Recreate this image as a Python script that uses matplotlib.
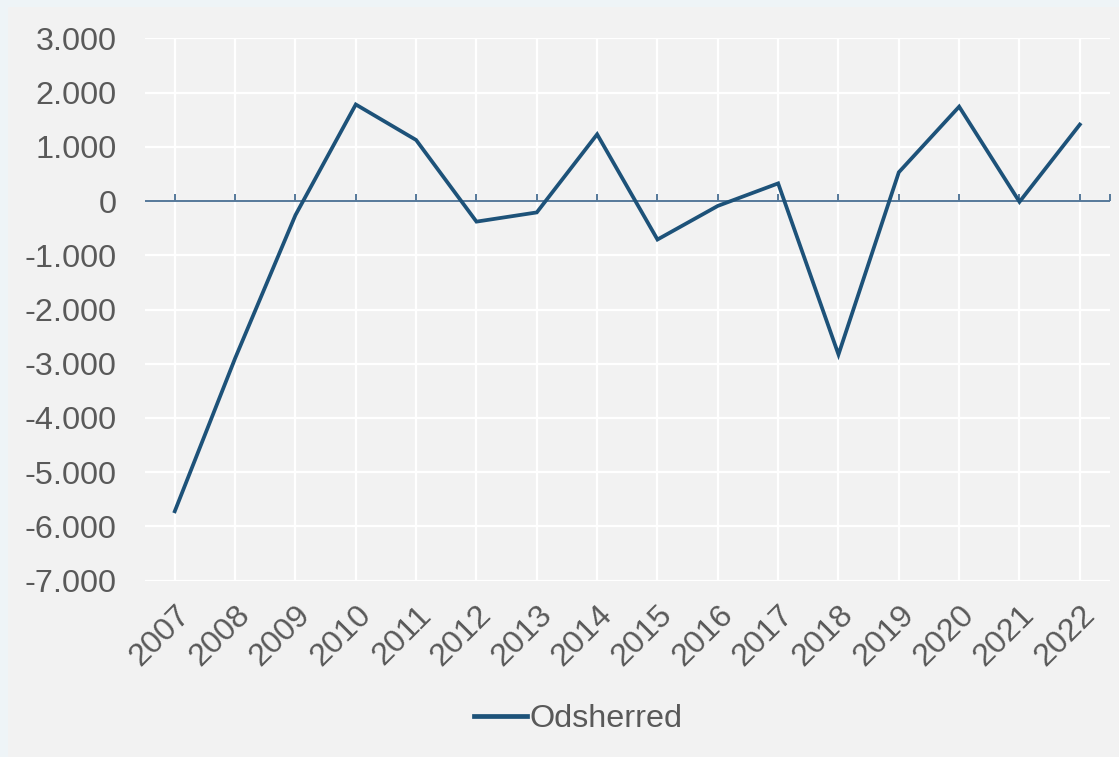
import numpy as np
import matplotlib
matplotlib.use("Agg")
import matplotlib.pyplot as plt
from matplotlib.patches import Rectangle
from matplotlib.ticker import FuncFormatter

# --- data ---
years = ["2007", "2008", "2009", "2010", "2011", "2012", "2013", "2014",
         "2015", "2016", "2017", "2018", "2019", "2020", "2021", "2022"]
odsherred = [-5720, -2900, -260, 1780, 1125, -380, -210, 1230,
             -710, -90, 325, -2830, 530, 1740, -15, 1410]
series_name = "Odsherred"

LINE = "#1d5279"
TXT = "#595959"
BG = "#f2f2f2"
FS = 23.3

plt.rcParams["font.family"] = ["Liberation Sans", "DejaVu Sans"]

fig = plt.figure(figsize=(11.19, 7.57), dpi=100)
fig.patch.set_facecolor("#eef4f7")
# chart area (light grey panel with a thin bluish strip left/top)
fig.patches.append(Rectangle((8/1119, 0), 1 - 8/1119, 1 - 7/757,
                             transform=fig.transFigure, facecolor=BG,
                             edgecolor="none", zorder=-1))

ax = fig.add_axes([144.6/1119, 1 - 580.7/757, (1110 - 144.6)/1119,
                   (580.7 - 38.3)/757])
ax.set_facecolor(BG)

x = np.arange(len(years))
ax.plot(x, odsherred, color=LINE, lw=2.7, solid_joinstyle="miter",
        label=series_name, zorder=3)

# zero line with small category tick marks
ax.axhline(0, color="#56799a", lw=1.4, zorder=2)
ax.plot(list(x) + [len(years) - 0.5], [0]*(len(years) + 1), ls="none",
        marker=2, ms=5, mew=1.4, color="#56799a", zorder=2)

ax.set_xlim(-0.5, len(years) - 0.5)
ax.set_ylim(-7000, 3000)
ax.set_yticks(np.arange(-7000, 3001, 1000))
ax.yaxis.set_major_formatter(FuncFormatter(
    lambda v, p: f"{int(v):,}".replace(",", ".")))
ax.set_xticks(x)
ax.set_xticklabels(years, rotation=45, ha="right", va="top",
                   rotation_mode="anchor")

ax.grid(True, color="white", lw=1.6)
ax.set_axisbelow(True)
for s in ax.spines.values():
    s.set_visible(False)
ax.tick_params(axis="both", length=0, labelsize=FS, colors=TXT)
ax.tick_params(axis="y", pad=20)
ax.tick_params(axis="x", pad=14)

leg = fig.legend(loc="center", bbox_to_anchor=(578/1119, 1 - 719/757),
                 frameon=False, fontsize=FS, handlelength=1.65,
                 handletextpad=0.08, labelcolor=TXT)
for h in leg.get_lines():
    h.set_linewidth(3.4)

fig.savefig("out.png", dpi=100, facecolor=fig.get_facecolor())
